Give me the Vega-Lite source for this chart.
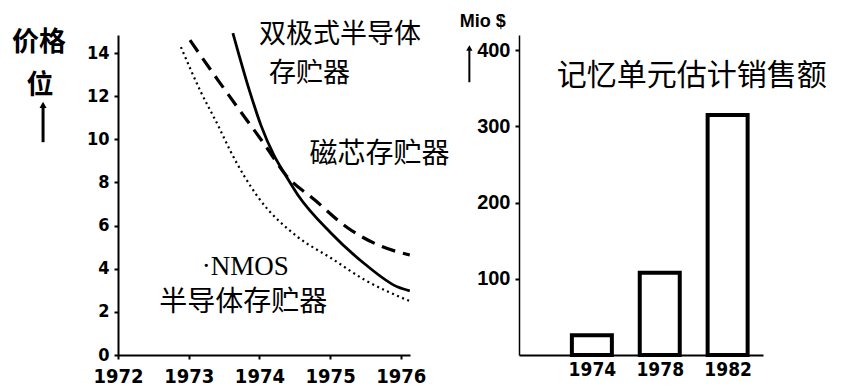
{
  "$schema": "https://vega.github.io/schema/vega-lite/v6.json",
  "background": "white",
  "padding": {"left": 12, "top": 13, "right": 5, "bottom": 0},
  "bounds": "flush",
  "spacing": 109,
  "config": {
    "view": {"stroke": null},
    "axis": {"grid": false, "domainColor": "black", "domainWidth": 2, "tickColor": "black", "tickWidth": 2, "tickSize": 4, "labelColor": "black", "labelFontWeight": "bold"}
  },
  "datasets": {
    "curves": [
      {"series": "bipolar", "year": 1973.625, "price": 14.93},
      {"series": "bipolar", "year": 1973.866, "price": 12.19},
      {"series": "bipolar", "year": 1974.021, "price": 10.66},
      {"series": "bipolar", "year": 1974.205, "price": 9.27},
      {"series": "bipolar", "year": 1974.36, "price": 8.39},
      {"series": "bipolar", "year": 1974.544, "price": 7.42},
      {"series": "bipolar", "year": 1975.011, "price": 5.66},
      {"series": "bipolar", "year": 1975.491, "price": 4.22},
      {"series": "bipolar", "year": 1975.958, "price": 3.15},
      {"series": "bipolar", "year": 1976.127, "price": 2.97},
      {"series": "core", "year": 1973.018, "price": 14.6},
      {"series": "core", "year": 1973.413, "price": 12.75},
      {"series": "core", "year": 1973.738, "price": 11.27},
      {"series": "core", "year": 1974.078, "price": 9.74},
      {"series": "core", "year": 1974.375, "price": 8.34},
      {"series": "core", "year": 1974.784, "price": 7.19},
      {"series": "core", "year": 1975.251, "price": 5.89},
      {"series": "core", "year": 1975.717, "price": 5.05},
      {"series": "core", "year": 1976.127, "price": 4.64},
      {"series": "nmos", "year": 1972.89, "price": 14.28},
      {"series": "nmos", "year": 1973.173, "price": 12.19},
      {"series": "nmos", "year": 1973.413, "price": 10.66},
      {"series": "nmos", "year": 1973.597, "price": 9.41},
      {"series": "nmos", "year": 1973.979, "price": 7.33},
      {"series": "nmos", "year": 1974.544, "price": 5.47},
      {"series": "nmos", "year": 1975.011, "price": 4.5},
      {"series": "nmos", "year": 1975.491, "price": 3.48},
      {"series": "nmos", "year": 1976.127, "price": 2.5}
    ],
    "topLabels": [
      {"year": 1975.14, "price": 14.82, "label": "双极式半导体"},
      {"year": 1974.71, "price": 13.02, "label": "存贮器"}
    ],
    "leftLabels": [
      {"year": 1975.7, "price": 9.27, "label": "磁芯存贮器"},
      {"year": 1973.77, "price": 2.42, "label": "半导体存贮器"}
    ],
    "nmosLabel": [
      {"year": 1973.8, "price": 4.1, "label": "·NMOS"}
    ],
    "unitLabels": [
      {"year": 1970.883, "price": 14.46, "label": "价格"},
      {"year": 1970.897, "price": 12.47, "label": "位"}
    ],
    "leftArrow": [
      {"year": 1970.94, "price": 9.87, "price2": 11.5}
    ],
    "leftArrowHead": [
      {"year": 1970.94, "price": 11.6}
    ],
    "sales": [
      {"year": 1974, "sales": 26},
      {"year": 1978, "sales": 108},
      {"year": 1982, "sales": 315}
    ],
    "rightTitle": [
      {"year": 1979.89, "sales": 366, "label": "记忆单元估计销售额"}
    ],
    "unitRight": [
      {"year": 1967.57, "sales": 437, "label": "Mio $"}
    ],
    "rightArrow": [
      {"year": 1966.78, "sales": 358, "sales2": 400}
    ],
    "rightArrowHead": [
      {"year": 1966.78, "sales": 403}
    ]
  },
  "hconcat": [
    {
      "width": 292,
      "height": 320,
      "layer": [
        {
          "data": {"name": "curves"},
          "transform": [{"filter": "datum.series === 'bipolar'"}],
          "mark": {"type": "line", "color": "black", "strokeWidth": 2.8, "interpolate": "monotone"},
          "encoding": {
            "x": {"field": "year", "type": "quantitative", "title": null,
                  "scale": {"domain": [1972, 1976.13], "nice": false, "zero": false},
                  "axis": {"values": [1972, 1973, 1974, 1975, 1976], "format": "d", "labelFont": "Liberation Sans Narrow, DejaVu Sans Condensed, Liberation Sans, sans-serif", "labelFontSize": 20, "labelPadding": 7, "labelFlush": false}},
            "y": {"field": "price", "type": "quantitative", "title": null,
                  "scale": {"domain": [0, 14.84], "nice": false},
                  "axis": {"values": [0, 2, 4, 6, 8, 10, 12, 14], "labelFont": "Liberation Sans Narrow, DejaVu Sans Condensed, Liberation Sans, sans-serif", "labelFontSize": 18, "labelPadding": 5}}
          }
        },
        {
          "data": {"name": "curves"},
          "transform": [{"filter": "datum.series === 'core'"}],
          "mark": {"type": "line", "color": "black", "strokeWidth": 3.2, "strokeDash": [14, 8], "interpolate": "monotone"},
          "encoding": {
            "x": {"field": "year", "type": "quantitative", "title": null},
            "y": {"field": "price", "type": "quantitative", "title": null}
          }
        },
        {
          "data": {"name": "curves"},
          "transform": [{"filter": "datum.series === 'nmos'"}],
          "mark": {"type": "line", "color": "black", "strokeWidth": 2.2, "strokeDash": [2, 3.5], "interpolate": "monotone"},
          "encoding": {
            "x": {"field": "year", "type": "quantitative", "title": null},
            "y": {"field": "price", "type": "quantitative", "title": null}
          }
        },
        {
          "data": {"name": "topLabels"},
          "mark": {"type": "text", "font": "Noto Sans CJK SC", "fontSize": 27, "color": "black", "align": "center", "baseline": "middle"},
          "encoding": {
            "x": {"field": "year", "type": "quantitative", "title": null},
            "y": {"field": "price", "type": "quantitative", "title": null},
            "text": {"field": "label"}
          }
        },
        {
          "data": {"name": "leftLabels"},
          "mark": {"type": "text", "font": "Noto Sans CJK SC", "fontSize": 28, "color": "black", "align": "center", "baseline": "middle"},
          "encoding": {
            "x": {"field": "year", "type": "quantitative", "title": null},
            "y": {"field": "price", "type": "quantitative", "title": null},
            "text": {"field": "label"}
          }
        },
        {
          "data": {"name": "nmosLabel"},
          "mark": {"type": "text", "font": "Liberation Serif", "fontSize": 27, "color": "black", "align": "center", "baseline": "middle"},
          "encoding": {
            "x": {"field": "year", "type": "quantitative", "title": null},
            "y": {"field": "price", "type": "quantitative", "title": null},
            "text": {"field": "label"}
          }
        },
        {
          "data": {"name": "unitLabels"},
          "mark": {"type": "text", "font": "Noto Sans CJK SC", "fontSize": 27, "fontWeight": "bold", "color": "black", "align": "center", "baseline": "middle"},
          "encoding": {
            "x": {"field": "year", "type": "quantitative", "title": null},
            "y": {"field": "price", "type": "quantitative", "title": null},
            "text": {"field": "label"}
          }
        },
        {
          "data": {"name": "leftArrow"},
          "mark": {"type": "rule", "color": "black", "strokeWidth": 3},
          "encoding": {
            "x": {"field": "year", "type": "quantitative", "title": null},
            "y": {"field": "price", "type": "quantitative", "title": null},
            "y2": {"field": "price2"}
          }
        },
        {
          "data": {"name": "leftArrowHead"},
          "mark": {"type": "point", "shape": "triangle-up", "filled": true, "color": "black", "size": 50, "opacity": 1},
          "encoding": {
            "x": {"field": "year", "type": "quantitative", "title": null},
            "y": {"field": "price", "type": "quantitative", "title": null}
          }
        }
      ]
    },
    {
      "width": 244,
      "height": 320,
      "layer": [
        {
          "data": {"name": "sales"},
          "mark": {"type": "bar", "width": 40, "fill": "white", "stroke": "black", "strokeWidth": 4},
          "encoding": {
            "x": {"field": "year", "type": "quantitative", "title": null,
                  "scale": {"domain": [1970, 1983.79], "nice": false, "zero": false},
                  "axis": {"values": [1974, 1978, 1982], "format": "d", "labelFont": "Liberation Sans Narrow, DejaVu Sans Condensed, Liberation Sans, sans-serif", "labelFontSize": 19, "labelPadding": 5, "ticks": false}},
            "y": {"field": "sales", "type": "quantitative", "title": null,
                  "scale": {"domain": [0, 420], "nice": false},
                  "axis": {"values": [100, 200, 300, 400], "labelFont": "Liberation Sans", "labelFontSize": 20, "labelPadding": 5, "domainWidth": 1.5}}
          }
        },
        {
          "data": {"name": "rightTitle"},
          "mark": {"type": "text", "font": "Noto Sans CJK SC", "fontSize": 30, "color": "black", "align": "center", "baseline": "middle"},
          "encoding": {
            "x": {"field": "year", "type": "quantitative", "title": null},
            "y": {"field": "sales", "type": "quantitative", "title": null},
            "text": {"field": "label"}
          }
        },
        {
          "data": {"name": "unitRight"},
          "mark": {"type": "text", "font": "Liberation Sans", "fontSize": 18, "fontWeight": "bold", "color": "black", "align": "center", "baseline": "middle"},
          "encoding": {
            "x": {"field": "year", "type": "quantitative", "title": null},
            "y": {"field": "sales", "type": "quantitative", "title": null},
            "text": {"field": "label"}
          }
        },
        {
          "data": {"name": "rightArrow"},
          "mark": {"type": "rule", "color": "black", "strokeWidth": 2},
          "encoding": {
            "x": {"field": "year", "type": "quantitative", "title": null},
            "y": {"field": "sales", "type": "quantitative", "title": null},
            "y2": {"field": "sales2"}
          }
        },
        {
          "data": {"name": "rightArrowHead"},
          "mark": {"type": "point", "shape": "triangle-up", "filled": true, "color": "black", "size": 40, "opacity": 1},
          "encoding": {
            "x": {"field": "year", "type": "quantitative", "title": null},
            "y": {"field": "sales", "type": "quantitative", "title": null}
          }
        }
      ]
    }
  ]
}
